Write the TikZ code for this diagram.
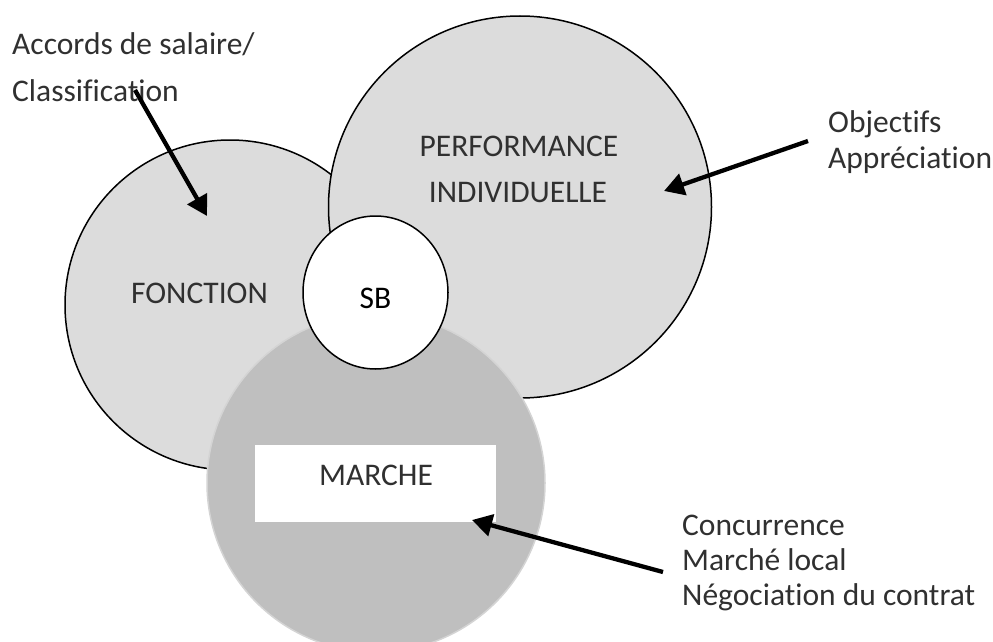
\documentclass[tikz,border=0pt]{standalone}
\usepackage{fontspec}
\setmainfont{Carlito}[Ligatures={NoCommon,NoContextual}]
\usetikzlibrary{arrows.meta,shapes.geometric}

\definecolor{discfill}{HTML}{DCDCDC}
\definecolor{marketfill}{HTML}{BFBFBF}
\definecolor{marketedge}{HTML}{D4D4D4}
\definecolor{labelink}{HTML}{303030}

\begin{document}
\begin{tikzpicture}[x=1pt,y=-1pt,
  disc/.style={ellipse, draw=black, line width=1.5pt, fill=discfill, inner sep=0pt},
  lbl/.style={font=\fontsize{31.5}{38}\selectfont, text=labelink, inner sep=0pt},
  pointer/.style={line width=4.3pt, -{Triangle[length=20pt,width=22pt]}},
]
\useasboundingbox (0,0) rectangle (993,642);
\clip (0,0) rectangle (993,642);

% the three overlapping factors
\node[disc, minimum width=330pt, minimum height=330pt] (fonction) at (230,305) {};
\node[disc, minimum width=383pt, minimum height=382pt] (perf) at (520,207) {};
\node[ellipse, draw=marketedge, line width=1.5pt, fill=marketfill, inner sep=0pt,
      minimum width=338pt, minimum height=338pt] (marche) at (376,483) {};
\node[fill=white, inner sep=0pt, minimum width=241pt, minimum height=77pt] (marchebox) at (375.5,483.5) {};

% the base salary at the centre
\node[ellipse, draw=black, line width=1.5pt, fill=white, inner sep=0pt,
      minimum width=145pt, minimum height=153pt] (sb) at (375.5,292.5) {};

% labels inside the circles
\node[lbl, anchor=base] (tfonction) at (199.5,303) {FONCTION};
\node[lbl, anchor=base] (tperf1) at (519,156) {PERFORMANCE};
\node[lbl, anchor=base] (tperf2) at (518,202) {INDIVIDUELLE};
\node[lbl, anchor=base] (tmarche) at (376,485) {MARCHE};
\node[lbl, anchor=base, text=black] (tsb) at (375.5,308) {SB};

% outside annotations
\node[lbl, anchor=base west] (acc1) at (12,55) {Accords de salaire/};
\node[lbl, anchor=base west] (acc2) at (12,101) {Classification};
\node[lbl, anchor=base west] (obj1) at (828,132) {Objectifs};
\node[lbl, anchor=base west] (obj2) at (828,168) {Appréciation};
\node[lbl, anchor=base west] (con1) at (682,535) {Concurrence};
\node[lbl, anchor=base west] (con2) at (682,570) {Marché local};
\node[lbl, anchor=base west] (con3) at (682,605) {Négociation du contrat};

% pointers from the annotations into the circles
\coordinate (s1) at (135,90);
\coordinate (e1) at (207,216);
\coordinate (s2) at (808,141);
\coordinate (e2) at (664,191);
\coordinate (s3) at (663,572);
\coordinate (e3) at (472,520);
\draw[pointer] (s1) -- (e1);
\draw[pointer] (s2) -- (e2);
\draw[pointer] (s3) -- (e3);
\end{tikzpicture}
\end{document}
